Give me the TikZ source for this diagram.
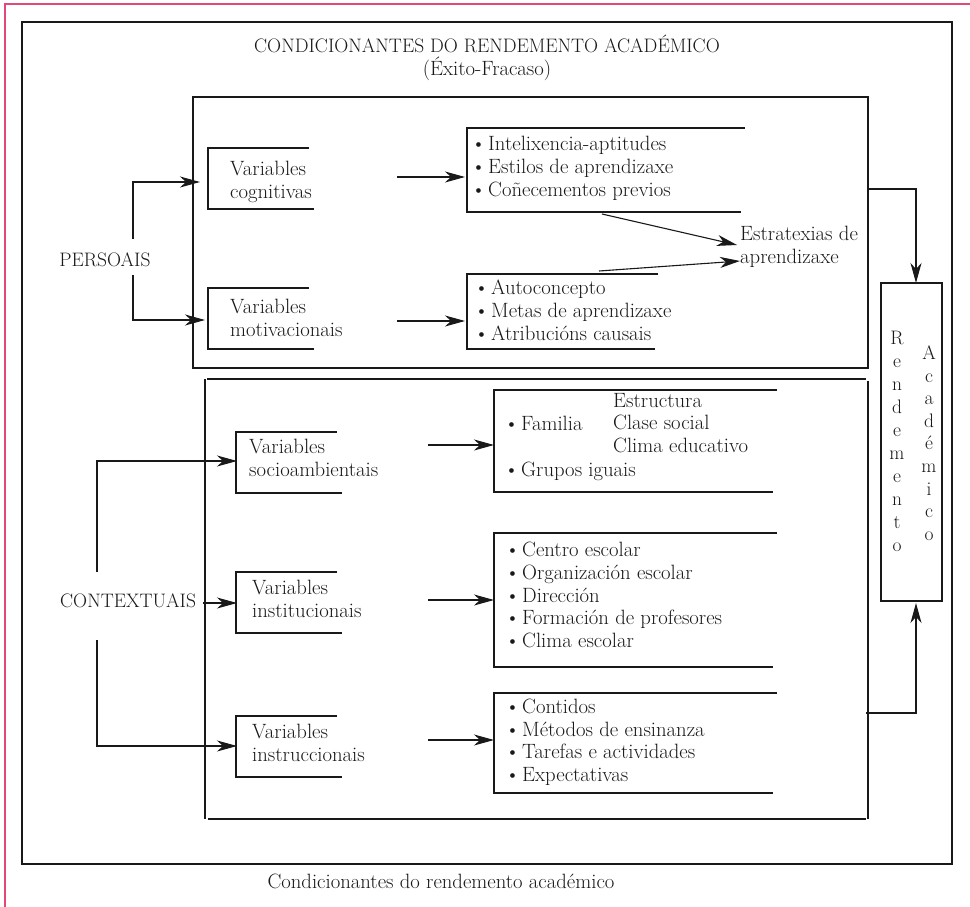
\documentclass[tikz,border=0pt]{standalone}
\usepackage{fontspec}
\usetikzlibrary{arrows.meta}
\definecolor{pinkline}{RGB}{228,72,118}
\definecolor{ink}{RGB}{25,25,25}
\newcommand\bul{\makebox[17pt][l]{\textbullet}}
\begin{document}
\begin{tikzpicture}[x=1pt,y=-1pt,
  ln/.style={line width=1.1pt,draw=ink},
  arr/.style={ln,-{Stealth[length=20pt,width=11pt,inset=6pt]}},
  lbl/.style={inner sep=0pt,anchor=west,text height=12pt,text depth=3pt,font=\fontsize{20.7}{23}\selectfont,text=ink},
  caps/.style={lbl,font=\fontsize{19.5}{23}\selectfont},
  ctr/.style={lbl,anchor=center},
  vletter/.style={lbl,anchor=center,font=\fontsize{19.5}{23}\selectfont},
]
\useasboundingbox (0,0) rectangle (970,907);
\fill[white] (0,0) rectangle (970,907);
% page edge marks
\draw[pinkline,line width=2pt] (5,907) -- (5,4) -- (970,4);
% outer frame
\draw[ln] (22,22) rectangle (952,864);
\node[caps,anchor=center] (title) at (487,48) {CONDICIONANTES DO RENDEMENTO ACADÉMICO};
\node[ctr] (sub) at (487,71) {(Éxito-Fracaso)};
\node[ctr] (caption) at (441,884) {Condicionantes do rendemento académico};

% ---------- PERSOAIS ----------
\draw[ln] (193,97) rectangle (868,368);
\node[caps,anchor=center] (persoais) at (105,262) {PERSOAIS};
\coordinate (pUp) at (133,239);
\coordinate (pDn) at (133,275);
\coordinate (cogIn) at (200,182);
\coordinate (motIn) at (205,320);
\draw[arr] (pUp) |- (cogIn);
\draw[arr] (pDn) |- (motIn);

% variable boxes
\draw[ln] (309,148) -- (208,148) -- (208,209) -- (314,209);
\node[lbl] (cog1) at (230,171) {Variables};
\node[lbl] (cog2) at (230,194) {cognitivas};
\draw[ln] (309,288) -- (208,288) -- (208,349) -- (314,349);
\node[lbl] (mot1) at (230,309) {Variables};
\node[lbl] (mot2) at (230,332) {motivacionais};

\coordinate (cogOut) at (397,177);
\coordinate (it1In) at (465,177);
\coordinate (motOut) at (397,321);
\coordinate (it2In) at (465,321);
\draw[arr] (cogOut) -- (it1In);
\draw[arr] (motOut) -- (it2In);

% item boxes
\draw[ln] (745,128) -- (467,128) -- (467,212) -- (741,212);
\node[lbl] (i11) at (471,146) {\bul Intelixencia-aptitudes};
\node[lbl] (i12) at (471,169) {\bul Estilos de aprendizaxe};
\node[lbl] (i13) at (471,192) {\bul Coñecementos previos};
\draw[ln] (658,274) -- (467,274) -- (467,349) -- (655,349);
\node[lbl] (i21) at (474,290) {\bul Autoconcepto};
\node[lbl] (i22) at (474,313) {\bul Metas de aprendizaxe};
\node[lbl] (i23) at (474,336) {\bul Atribucións causais};

\node[lbl] (estr1) at (740,236) {Estratexias de};
\node[lbl] (estr2) at (740,259) {aprendizaxe};
\coordinate (it1Out) at (602,214);
\coordinate (estIn1) at (737,245);
\coordinate (it2Out) at (599,271);
\coordinate (estIn2) at (740,261);
\draw[arr] (it1Out) -- (estIn1);
\draw[arr] (it2Out) -- (estIn2);

% ---------- RENDEMENTO ----------
\draw[ln] (881,283) rectangle (942,601);
\foreach \l [count=\i] in {R,e,n,d,e,m,e,n,t,o}
  \node[vletter] (r\i) at (897,340+23*\i-23) {\l};
\foreach \l [count=\i] in {A,c,a,d,é,m,i,c,o}
  \node[vletter] (a\i) at (929,355+22.6*\i-22.6) {\l};
\coordinate (persOut) at (868,189);
\coordinate (rendTop) at (916,283);
\coordinate (contOut) at (866,713);
\coordinate (rendBot) at (916,603);
\draw[arr] (persOut) -| (rendTop);
\draw[arr] (contOut) -| (rendBot);

% ---------- CONTEXTUAIS ----------
\draw[ln] (207,379) -- (866,379);
\draw[ln] (205,379) -- (205,819);
\draw[ln] (208,819) -- (866,819);
\draw[ln] (868,381) -- (868,819);

\node[caps] (contextuais) at (60,603) {CONTEXTUAIS};
\coordinate (cUp) at (97,572);
\coordinate (cDn) at (97,640);
\coordinate (socIn) at (237,461);
\coordinate (instIn) at (237,603);
\coordinate (instrIn) at (237,746);
\coordinate (cMid) at (203,603);
\draw[arr] (cUp) |- (socIn);
\draw[arr] (cMid) -- (instIn);
\draw[arr] (cDn) |- (instrIn);

\draw[ln] (337,432) -- (236,432) -- (236,493) -- (342,493);
\node[lbl] (soc1) at (249,449) {Variables};
\node[lbl] (soc2) at (249,472) {socioambientais};
\draw[ln] (337,572) -- (236,572) -- (236,633) -- (342,633);
\node[lbl] (ins1) at (252,590) {Variables};
\node[lbl] (ins2) at (252,613) {institucionais};
\draw[ln] (337,716) -- (236,716) -- (236,777) -- (342,777);
\node[lbl] (isr1) at (252,734) {Variables};
\node[lbl] (isr2) at (252,757) {instruccionais};

\coordinate (socOut) at (428,445);
\coordinate (it3In) at (494,445);
\coordinate (insOut) at (428,600);
\coordinate (it4In) at (494,600);
\coordinate (isrOut) at (428,740);
\coordinate (it5In) at (494,740);
\draw[arr] (socOut) -- (it3In);
\draw[arr] (insOut) -- (it4In);
\draw[arr] (isrOut) -- (it5In);

\draw[ln] (777,390) -- (494,390) -- (494,492) -- (773,492);
\node[lbl] (fam) at (504,426) {\bul Familia};
\node[lbl] (fam1) at (613,403) {Estructura};
\node[lbl] (fam2) at (613,425) {Clase social};
\node[lbl] (fam3) at (613,448) {Clima educativo};
\node[lbl] (grp) at (504,472) {\bul Grupos iguais};

\draw[ln] (777,533) -- (494,533) -- (494,667) -- (773,667);
\node[lbl] (c1) at (505,552) {\bul Centro escolar};
\node[lbl] (c2) at (505,575) {\bul Organización escolar};
\node[lbl] (c3) at (505,598) {\bul Dirección};
\node[lbl] (c4) at (505,620) {\bul Formación de profesores};
\node[lbl] (c5) at (505,643) {\bul Clima escolar};

\draw[ln] (777,693) -- (494,693) -- (494,793) -- (773,793);
\node[lbl] (d1) at (505,709) {\bul Contidos};
\node[lbl] (d2) at (505,732) {\bul Métodos de ensinanza};
\node[lbl] (d3) at (505,754) {\bul Tarefas e actividades};
\node[lbl] (d4) at (505,777) {\bul Expectativas};
\end{tikzpicture}
\end{document}
